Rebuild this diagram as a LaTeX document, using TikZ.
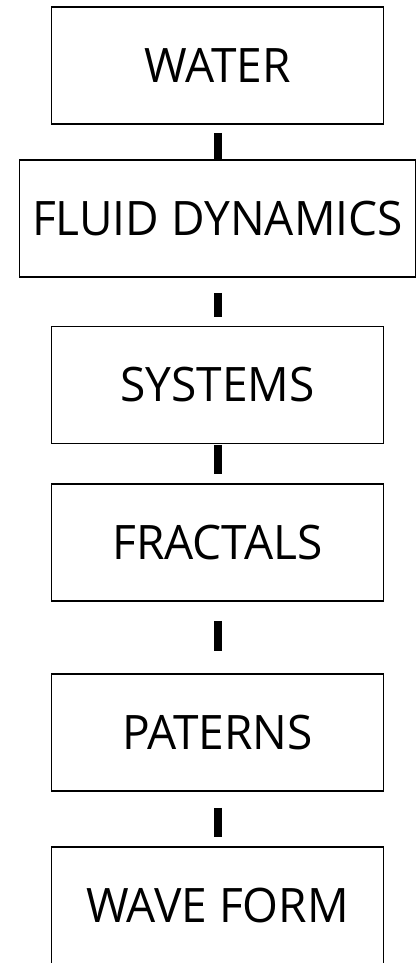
\documentclass[tikz,border=0pt]{standalone}
\usepackage{fontspec}
\setmainfont[FakeStretch=0.97]{Open Sans}
\usepackage{tikz}
\tikzset{
  box/.style={draw, line width=1.8pt, minimum width=332pt, minimum height=117pt, inner sep=0pt, font=\fontsize{47.5}{50}\selectfont},
  link/.style={line width=8pt}
}
\begin{document}
\begin{tikzpicture}[x=1pt,y=-1pt]
\useasboundingbox (0,0) rectangle (418,963);
\node[box] (water) at (217.5,65.5) {WATER};
\node[box, minimum width=396pt] (fluid) at (217.5,218.5) {FLUID DYNAMICS};
\node[box] (systems) at (217.5,385) {SYSTEMS};
\node[box] (fractals) at (217.5,542.5) {FRACTALS};
\node[box] (paterns) at (217.5,732.5) {PATERNS};
\node[box] (waveform) at (217.5,905.5) {WAVE FORM};
\draw[link, shorten <=8pt] (water.south) -- (fluid.north);
\draw[link, shorten <=15pt, shorten >=8.5pt] (fluid.south) -- (systems.north);
\draw[link, shorten <=1pt, shorten >=9pt] (systems.south) -- (fractals.north);
\draw[link, shorten <=19pt, shorten >=22pt] (fractals.south) -- (paterns.north);
\draw[link, shorten <=16pt, shorten >=9pt] (paterns.south) -- (waveform.north);
\end{tikzpicture}
\end{document}
